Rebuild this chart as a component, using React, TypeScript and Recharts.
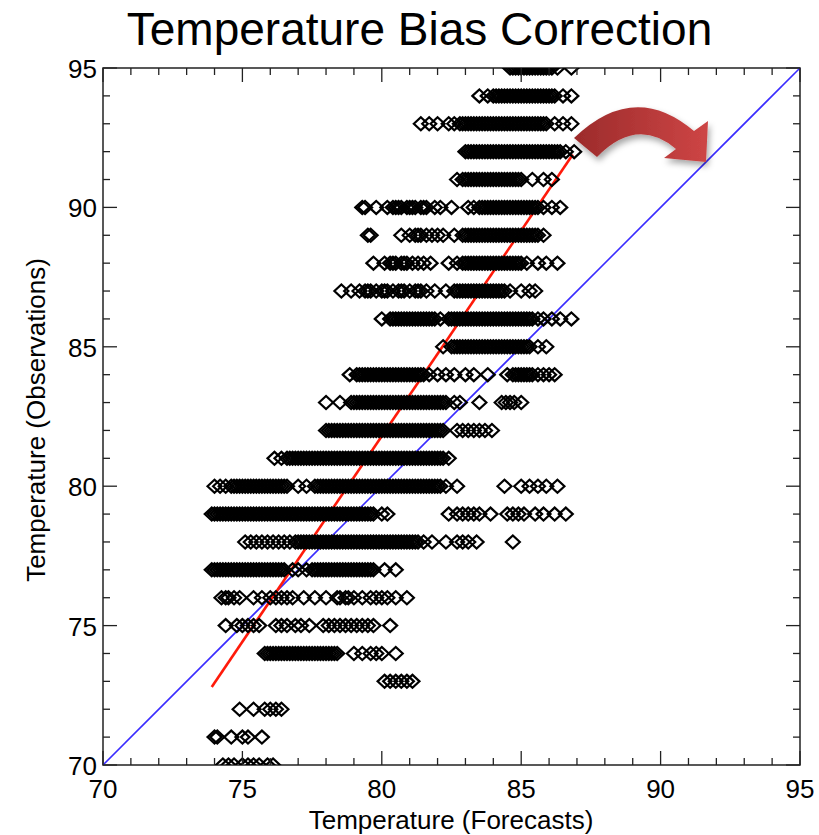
import React from 'react'
import { ScatterChart, Scatter, XAxis, YAxis, ReferenceArea, ReferenceLine } from 'recharts'

const obs95 = [84.6, 84.7, 84.8, 84.9, 85.0, 85.1, 85.2, 85.3, 85.4, 85.5, 85.6, 85.7, 85.8, 85.9, 86.0, 86.1, 86.3, 86.8]
const obs94 = [83.5, 83.8, 84.0, 84.1, 84.2, 84.3, 84.4, 84.5, 84.6, 84.7, 84.8, 84.9, 85.0, 85.1, 85.2, 85.3, 85.4, 85.5, 85.6, 85.7, 85.8, 85.9, 86.0, 86.1, 86.2, 86.5, 86.8]
const obs93 = [81.4, 81.7, 82.0, 82.4, 82.6, 82.8, 82.9, 83.0, 83.1, 83.2, 83.3, 83.4, 83.5, 83.6, 83.7, 83.8, 83.9, 84.0, 84.1, 84.2, 84.3, 84.4, 84.5, 84.6, 84.7, 84.8, 84.9, 85.0, 85.1, 85.2, 85.3, 85.4, 85.5, 85.6, 85.7, 85.8, 85.9, 86.2, 86.5, 86.8]
const obs92 = [83.0, 83.1, 83.2, 83.3, 83.4, 83.5, 83.6, 83.7, 83.8, 83.9, 84.0, 84.1, 84.2, 84.3, 84.4, 84.5, 84.6, 84.7, 84.8, 84.9, 85.0, 85.1, 85.2, 85.3, 85.4, 85.5, 85.6, 85.7, 85.8, 85.9, 86.0, 86.1, 86.2, 86.3, 86.4, 86.6, 86.9]
const obs91 = [82.7, 82.9, 83.0, 83.1, 83.2, 83.3, 83.4, 83.5, 83.6, 83.7, 83.8, 83.9, 84.0, 84.1, 84.2, 84.3, 84.4, 84.5, 84.6, 84.7, 84.8, 84.9, 85.0, 85.4, 85.8, 86.1]
const obs90 = [79.3, 79.4, 79.8, 80.2, 80.4, 80.5, 80.6, 80.7, 80.9, 81.0, 81.1, 81.2, 81.4, 81.5, 81.6, 81.9, 82.1, 82.5, 83.1, 83.3, 83.5, 83.6, 83.7, 83.8, 83.9, 84.0, 84.1, 84.2, 84.3, 84.4, 84.5, 84.6, 84.7, 84.8, 84.9, 85.0, 85.1, 85.2, 85.3, 85.4, 85.5, 85.6, 85.8, 86.1, 86.4]
const obs89 = [79.5, 79.6, 80.7, 81.0, 81.2, 81.3, 81.4, 81.6, 81.8, 82.0, 82.2, 82.6, 82.9, 83.0, 83.1, 83.2, 83.3, 83.4, 83.5, 83.6, 83.7, 83.8, 83.9, 84.0, 84.1, 84.2, 84.3, 84.4, 84.5, 84.6, 84.7, 84.8, 84.9, 85.0, 85.1, 85.2, 85.3, 85.4, 85.5, 85.6, 85.8]
const obs88 = [79.7, 80.1, 80.3, 80.4, 80.5, 80.7, 80.8, 80.9, 81.1, 81.3, 81.5, 81.75, 82.4, 82.7, 82.9, 83.0, 83.1, 83.2, 83.3, 83.4, 83.5, 83.6, 83.7, 83.8, 83.9, 84.0, 84.1, 84.2, 84.3, 84.4, 84.5, 84.6, 84.7, 84.8, 84.9, 85.0, 85.2, 85.6, 85.9, 86.3]
const obs87 = [78.55, 78.9, 79.2, 79.4, 79.5, 79.6, 79.8, 80.0, 80.1, 80.2, 80.4, 80.6, 80.7, 80.8, 81.0, 81.2, 81.3, 81.4, 81.6, 81.9, 82.3, 82.6, 82.7, 82.8, 82.9, 83.0, 83.1, 83.2, 83.3, 83.4, 83.5, 83.6, 83.7, 83.8, 83.9, 84.0, 84.1, 84.2, 84.3, 84.4, 84.6, 85.0, 85.3, 85.5]
const obs86 = [80.0, 80.3, 80.4, 80.5, 80.6, 80.7, 80.8, 80.9, 81.0, 81.1, 81.2, 81.3, 81.4, 81.5, 81.6, 81.7, 81.8, 81.9, 82.1, 82.4, 82.5, 82.6, 82.7, 82.8, 82.9, 83.0, 83.1, 83.2, 83.3, 83.4, 83.5, 83.6, 83.7, 83.8, 83.9, 84.0, 84.1, 84.2, 84.3, 84.4, 84.5, 84.6, 84.7, 84.8, 84.9, 85.0, 85.1, 85.2, 85.3, 85.4, 85.6, 85.8, 86.1, 86.4, 86.8]
const obs85 = [82.2, 82.5, 82.6, 82.7, 82.8, 82.9, 83.0, 83.1, 83.2, 83.3, 83.4, 83.5, 83.6, 83.7, 83.8, 83.9, 84.0, 84.1, 84.2, 84.3, 84.4, 84.5, 84.6, 84.7, 84.8, 84.9, 85.0, 85.1, 85.2, 85.3, 85.6, 85.9]
const obs84 = [78.85, 79.1, 79.2, 79.3, 79.4, 79.5, 79.6, 79.7, 79.8, 79.9, 80.0, 80.1, 80.2, 80.3, 80.4, 80.5, 80.6, 80.7, 80.8, 80.9, 81.0, 81.1, 81.2, 81.3, 81.4, 81.5, 81.7, 82.0, 82.3, 82.6, 83.0, 83.3, 83.8, 84.5, 84.7, 84.8, 84.9, 85.0, 85.1, 85.2, 85.3, 85.4, 85.6, 85.8, 86.0, 86.2]
const obs83 = [78.0, 78.5, 78.9, 79.0, 79.1, 79.2, 79.3, 79.4, 79.5, 79.6, 79.7, 79.8, 79.9, 80.0, 80.1, 80.2, 80.3, 80.4, 80.5, 80.6, 80.7, 80.8, 80.9, 81.0, 81.1, 81.2, 81.3, 81.4, 81.5, 81.6, 81.7, 81.8, 81.9, 82.0, 82.1, 82.2, 82.3, 82.6, 82.8, 83.5, 84.3, 84.45, 84.6, 84.75, 85.0]
const obs82 = [78.0, 78.1, 78.2, 78.3, 78.4, 78.5, 78.6, 78.7, 78.8, 78.9, 79.0, 79.1, 79.2, 79.3, 79.4, 79.5, 79.6, 79.7, 79.8, 79.9, 80.0, 80.1, 80.2, 80.3, 80.4, 80.5, 80.6, 80.7, 80.8, 80.9, 81.0, 81.1, 81.2, 81.3, 81.4, 81.5, 81.6, 81.7, 81.8, 81.9, 82.0, 82.1, 82.2, 82.7, 82.9, 83.1, 83.3, 83.5, 83.7, 83.95]
const obs81 = [76.15, 76.4, 76.6, 76.7, 76.8, 76.9, 77.0, 77.1, 77.2, 77.3, 77.4, 77.5, 77.6, 77.7, 77.8, 77.9, 78.0, 78.1, 78.2, 78.3, 78.4, 78.5, 78.6, 78.7, 78.8, 78.9, 79.0, 79.1, 79.2, 79.3, 79.4, 79.5, 79.6, 79.7, 79.8, 79.9, 80.0, 80.1, 80.2, 80.3, 80.4, 80.5, 80.6, 80.7, 80.8, 80.9, 81.0, 81.1, 81.2, 81.3, 81.4, 81.5, 81.6, 81.7, 81.8, 81.9, 82.0, 82.1, 82.2, 82.4]
const obs80 = [74.0, 74.2, 74.4, 74.6, 74.7, 74.8, 74.9, 75.0, 75.1, 75.2, 75.3, 75.4, 75.5, 75.6, 75.7, 75.8, 75.9, 76.0, 76.1, 76.2, 76.3, 76.4, 76.5, 76.6, 77.0, 77.3, 77.6, 77.7, 77.8, 77.9, 78.0, 78.1, 78.2, 78.3, 78.4, 78.5, 78.6, 78.7, 78.8, 78.9, 79.0, 79.1, 79.2, 79.3, 79.4, 79.5, 79.6, 79.7, 79.8, 79.9, 80.0, 80.1, 80.2, 80.3, 80.4, 80.5, 80.6, 80.7, 80.8, 80.9, 81.0, 81.1, 81.2, 81.3, 81.4, 81.5, 81.6, 81.7, 81.8, 81.9, 82.0, 82.1, 82.3, 82.7, 84.4, 85.0, 85.3, 85.6, 85.9, 86.3]
const obs79 = [73.9, 74.0, 74.1, 74.2, 74.3, 74.4, 74.5, 74.6, 74.7, 74.8, 74.9, 75.0, 75.1, 75.2, 75.3, 75.4, 75.5, 75.6, 75.7, 75.8, 75.9, 76.0, 76.1, 76.2, 76.3, 76.4, 76.5, 76.6, 76.7, 76.8, 76.9, 77.0, 77.1, 77.2, 77.3, 77.4, 77.5, 77.6, 77.7, 77.8, 77.9, 78.0, 78.1, 78.2, 78.3, 78.4, 78.5, 78.6, 78.7, 78.8, 78.9, 79.0, 79.1, 79.2, 79.3, 79.4, 79.5, 79.6, 79.7, 80.0, 80.2, 82.4, 82.7, 82.9, 83.1, 83.3, 83.5, 83.9, 84.5, 84.7, 84.9, 85.1, 85.5, 85.8, 86.2, 86.6]
const obs78 = [75.1, 75.3, 75.5, 75.7, 75.9, 76.1, 76.3, 76.5, 76.7, 76.9, 77.0, 77.1, 77.2, 77.3, 77.4, 77.5, 77.6, 77.7, 77.8, 77.9, 78.0, 78.1, 78.2, 78.3, 78.4, 78.5, 78.6, 78.7, 78.8, 78.9, 79.0, 79.1, 79.2, 79.3, 79.4, 79.5, 79.6, 79.7, 79.8, 79.9, 80.0, 80.1, 80.2, 80.3, 80.4, 80.5, 80.6, 80.7, 80.8, 80.9, 81.0, 81.1, 81.2, 81.3, 81.5, 81.8, 82.3, 82.7, 82.9, 83.1, 83.4, 84.7]
const obs77 = [73.9, 74.0, 74.1, 74.2, 74.3, 74.4, 74.5, 74.6, 74.7, 74.8, 74.9, 75.0, 75.1, 75.2, 75.3, 75.4, 75.5, 75.6, 75.7, 75.8, 75.9, 76.0, 76.1, 76.2, 76.3, 76.4, 76.5, 76.8, 77.0, 77.3, 77.5, 77.6, 77.7, 77.8, 77.9, 78.0, 78.1, 78.2, 78.3, 78.4, 78.5, 78.6, 78.7, 78.8, 78.9, 79.0, 79.1, 79.2, 79.3, 79.4, 79.5, 79.6, 79.7, 80.1, 80.5]
const obs76 = [74.25, 74.4, 74.5, 74.7, 74.9, 75.4, 75.7, 76.0, 76.2, 76.4, 76.6, 76.8, 77.2, 77.6, 78.0, 78.4, 78.5, 78.7, 78.8, 79.0, 79.3, 79.6, 79.8, 80.0, 80.2, 80.5, 80.9]
const obs75 = [74.4, 74.8, 75.0, 75.2, 75.4, 75.6, 76.2, 76.4, 76.6, 76.9, 77.1, 77.4, 77.9, 78.1, 78.3, 78.5, 78.7, 78.9, 79.1, 79.3, 79.5, 79.7, 80.3]
const obs74 = [75.8, 75.9, 76.0, 76.1, 76.2, 76.3, 76.4, 76.5, 76.6, 76.7, 76.8, 76.9, 77.0, 77.1, 77.2, 77.3, 77.4, 77.5, 77.6, 77.7, 77.8, 77.9, 78.0, 78.1, 78.2, 78.3, 78.4, 79.0, 79.3, 79.6, 79.8, 80.0, 80.5]
const obs73 = [80.1, 80.3, 80.5, 80.7, 80.9, 81.1]
const obs72 = [74.9, 75.4, 75.8, 76.0, 76.2, 76.4]
const obs71 = [74.0, 74.1, 74.6, 75.0, 75.2, 75.7]
const obs70 = [74.3, 74.5, 74.7, 75.0, 75.2, 75.4, 75.6, 75.9, 76.1]

const rows: [number, number[]][] = [
  [95, obs95], [94, obs94], [93, obs93], [92, obs92], [91, obs91], [90, obs90],
  [89, obs89], [88, obs88], [87, obs87], [86, obs86], [85, obs85], [84, obs84],
  [83, obs83], [82, obs82], [81, obs81], [80, obs80], [79, obs79], [78, obs78],
  [77, obs77], [76, obs76], [75, obs75], [74, obs74], [73, obs73], [72, obs72],
  [71, obs71], [70, obs70],
]

// fitted (red) and one-to-one (blue) lines, endpoints
const fitLine = [{ x: 73.9, y: 72.8 }, { x: 86.85, y: 91.9 }]
const idLine = [{ x: 70, y: 70 }, { x: 95, y: 95 }]

const ticks = [70, 71, 72, 73, 74, 75, 76, 77, 78, 79, 80, 81, 82, 83, 84, 85, 86, 87, 88, 89, 90, 91, 92, 93, 94, 95]
const majorTicks = [70, 75, 80, 85, 90, 95]

const W = 819
const H = 835
const M = { top: 68, right: 19, bottom: 0, left: 0 }
const X_AXIS_H = 70
const Y_AXIS_W = 103
const PLOT_W = W - M.left - M.right - Y_AXIS_W
const PLOT_H = H - M.top - X_AXIS_H
const FONT = '"Liberation Sans", Arial, sans-serif'

const points = rows.flatMap(([y, xs]) => xs.map((x) => ({ x, y })))

function Diamond(props: any) {
  const { cx, cy } = props
  return (
    <path
      d={`M${cx - 7},${cy}L${cx},${cy - 6.5}L${cx + 7},${cy}L${cx},${cy + 6.5}Z`}
      fill="none"
      stroke="#000"
      strokeWidth={2.2}
    />
  )
}

function XTick(props: any) {
  const { x, y, payload } = props
  const major = majorTicks.includes(payload.value)
  const len = major ? 14 : 7
  return (
    <g>
      <line x1={x} y1={y} x2={x} y2={y - len} stroke="#222" strokeWidth={1.3} />
      <line x1={x} y1={y - PLOT_H} x2={x} y2={y - PLOT_H + len} stroke="#222" strokeWidth={1.3} />
      {major && (
        <text x={x} y={y + 33} textAnchor="middle" fontSize={26} fontFamily={FONT} fill="#000">
          {payload.value}
        </text>
      )}
    </g>
  )
}

function YTick(props: any) {
  const { x, y, payload } = props
  const major = majorTicks.includes(payload.value)
  const len = major ? 14 : 7
  return (
    <g>
      <line x1={x} y1={y} x2={x + len} y2={y} stroke="#222" strokeWidth={1.3} />
      <line x1={x + PLOT_W} y1={y} x2={x + PLOT_W - len} y2={y} stroke="#222" strokeWidth={1.3} />
      {major && (
        <text x={x - 6} y={y + 10} textAnchor="end" fontSize={26} fontFamily={FONT} fill="#000">
          {payload.value}
        </text>
      )}
    </g>
  )
}

export default function App() {
  return (
    <div style={{ position: 'absolute', left: 0, top: 0, width: W, height: H, background: '#fff' }}>
      <ScatterChart width={W} height={H} margin={M}>
        <XAxis
          type="number"
          dataKey="x"
          domain={[70, 95]}
          ticks={ticks}
          interval={0}
          allowDataOverflow
          height={X_AXIS_H}
          axisLine={false}
          tickLine={false}
          tickSize={0}
          tickMargin={0}
          tick={<XTick />}
        />
        <YAxis
          type="number"
          dataKey="y"
          domain={[70, 95]}
          ticks={ticks}
          interval={0}
          allowDataOverflow
          width={Y_AXIS_W}
          axisLine={false}
          tickLine={false}
          tickSize={0}
          tickMargin={0}
          tick={<YTick />}
        />
        <ReferenceArea x1={70} x2={95} y1={70} y2={95} fill="none" stroke="#222" strokeWidth={1.5} />
        <Scatter data={points} shape={<Diamond />} isAnimationActive={false} />
        <ReferenceLine segment={idLine} stroke="#3a2cff" strokeWidth={1.6} />
        <ReferenceLine segment={fitLine} stroke="#ff1a0a" strokeWidth={2.6} />
      </ScatterChart>
      <svg width={W} height={H} style={{ position: 'absolute', left: 0, top: 0, pointerEvents: 'none' }}>
        <defs>
          <linearGradient id="arrowFill" x1="575" y1="0" x2="707" y2="0" gradientUnits="userSpaceOnUse">
            <stop offset="0" stopColor="#9c2b2b" />
            <stop offset="1" stopColor="#cd4545" />
          </linearGradient>
          <filter id="arrowShadow" x="-20%" y="-20%" width="140%" height="160%">
            <feDropShadow dx="2" dy="4" stdDeviation="3" floodColor="#000" floodOpacity="0.35" />
          </filter>
        </defs>
        <text x={419.5} y={45} textAnchor="middle" fontSize={46} fontFamily={FONT} fill="#000">
          Temperature Bias Correction
        </text>
        <text x={451} y={829} textAnchor="middle" fontSize={26} fontFamily={FONT} fill="#000">
          Temperature (Forecasts)
        </text>
        <text x={45} y={420} textAnchor="middle" fontSize={26} fontFamily={FONT} fill="#000" transform="rotate(-90 45 420)">
          Temperature (Observations)
        </text>
        <path
          d="M574,138 Q634,80 694,131 L708,121 L706,162 L664,158 L676,149 Q637,116 597,157 Z"
          fill="url(#arrowFill)"
          filter="url(#arrowShadow)"
        />
      </svg>
    </div>
  )
}
